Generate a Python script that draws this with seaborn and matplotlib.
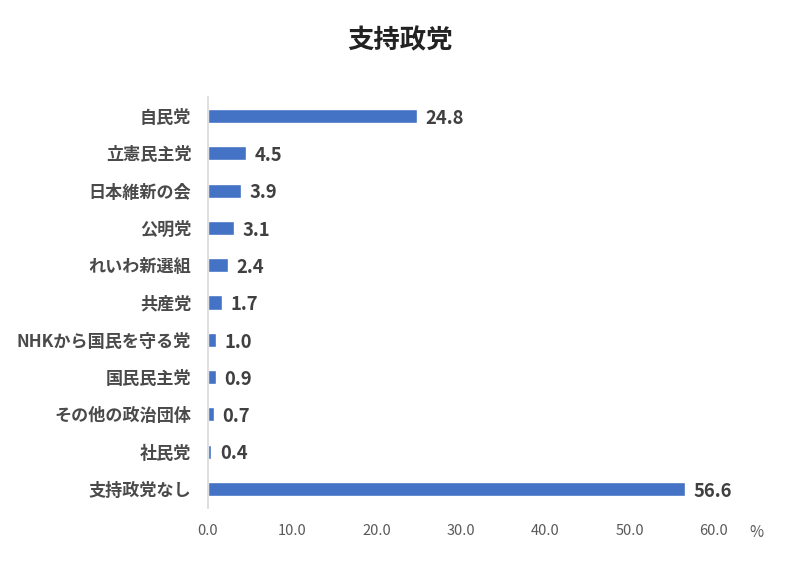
import pandas as pd
import seaborn as sns
import matplotlib.pyplot as plt

parties = ["自民党", "立憲民主党", "日本維新の会", "公明党", "れいわ新選組", "共産党",
           "NHKから国民を守る党", "国民民主党", "その他の政治団体", "社民党", "支持政党なし"]
support = [24.8, 4.5, 3.9, 3.1, 2.4, 1.7, 1.0, 0.9, 0.7, 0.4, 56.6]
x_ticks = [0, 10, 20, 30, 40, 50, 60]


def main():
    df = pd.DataFrame({"party": parties, "support": support})

    sns.set_theme(style="white")
    plt.rcParams["font.family"] = ["Noto Sans CJK JP", "DejaVu Sans"]

    fig = plt.figure(figsize=(8, 5.64), dpi=100)
    ax = fig.add_axes([0.26, 0.10, 0.6325, 0.7273])

    sns.barplot(data=df, x="support", y="party", color="#4472C4", width=0.38,
                saturation=1, ax=ax)

    # value labels
    for i, v in enumerate(df["support"]):
        ax.text(v + 1.0, i + 0.06, f"{v:.1f}", va="center", ha="left",
                fontsize=13.3, fontweight="bold", color="#404040")

    ax.set_xlim(0, 60)
    ax.set_ylim(10.5, -0.5)
    ax.set_xticks(x_ticks)
    ax.set_xticklabels([f"{t:.1f}" for t in x_ticks], color="#595959", fontsize=10.5)
    ax.tick_params(axis="y", labelsize=12.3, labelcolor="#4a4a4a", length=0, pad=12)
    ax.tick_params(axis="x", length=0, pad=12)
    for lab in ax.get_yticklabels():
        lab.set_fontweight("bold")
    ax.set_xlabel("")
    ax.set_ylabel("")

    for s in ["top", "right", "bottom"]:
        ax.spines[s].set_visible(False)
    ax.spines["left"].set_color("#D9D9D9")
    ax.spines["left"].set_linewidth(1.2)

    fig.text(0.946, 0.055, "%", ha="center", va="center", fontsize=11, color="#595959")
    fig.text(0.5, 0.928, "支持政党", ha="center", va="center", fontsize=19,
             fontweight="bold", color="#222222")

    fig.savefig("out.png", dpi=100)


if __name__ == "__main__":
    main()
